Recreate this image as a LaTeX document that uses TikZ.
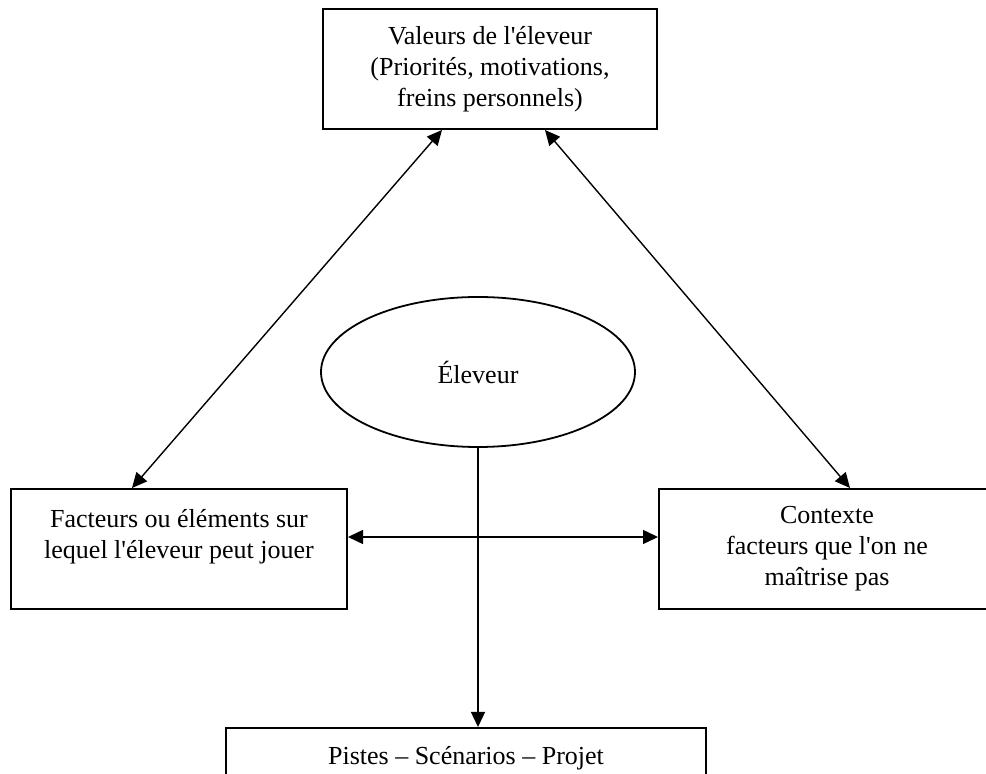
\documentclass[tikz,border=0pt]{standalone}
\usepackage{fontspec}
\setmainfont{Liberation Serif}[Ligatures=TeXOff]
\usepackage{tikz}
\usetikzlibrary{arrows.meta, shapes.geometric}

\begin{document}
\begin{tikzpicture}[
  x=0.5pt, y=-0.5pt,
  box/.style={draw=black, line width=1pt, fill=white, inner sep=0pt, align=center,
    font=\fontsize{13pt}{15.5pt}\selectfont},
  oval/.style={ellipse, draw=black, line width=0.9pt, inner sep=0pt,
    minimum width=157pt, minimum height=75pt, font=\fontsize{13pt}{15.5pt}\selectfont},
  arr/.style={-{Triangle[length=7.5pt, width=7pt]}, line width=0.7pt},
  darr/.style={{Triangle[length=7.5pt, width=7pt]}-{Triangle[length=7.5pt, width=7pt]}, line width=0.7pt}
]
  \useasboundingbox (0,0) rectangle (986,774);

  % Boxes
  \node[box, minimum width=167pt, minimum height=60pt] (val) at (490, 69)
    {Valeurs de l'éleveur\\(Priorités, motivations,\\freins personnels)};
  \node[oval] (elv) at (478, 372) {Éleveur};
  \node[box, minimum width=168pt, minimum height=60pt] (fac) at (179, 549)
    {Facteurs ou éléments sur\\lequel l'éleveur peut jouer\\\mbox{}};
  \node[box, minimum width=168pt, minimum height=60pt] (ctx) at (827, 549)
    {Contexte\\facteurs que l'on ne\\maîtrise pas};
  \node[box, minimum width=240pt, minimum height=30pt] (pis) at (466, 758)
    {Pistes – Scénarios – Projet};

  % Arrows
  \draw[darr] ([xshift=-23.5pt]fac.north) -- ([xshift=-24pt]val.south);
  \draw[darr] ([xshift=11.5pt]ctx.north) -- ([xshift=27.5pt]val.south);
  \draw[darr] ([yshift=6pt]fac.east) -- ([yshift=6pt]ctx.west);
  \draw[arr] (elv.south) -- (elv.south |- pis.north);
\end{tikzpicture}
\end{document}
